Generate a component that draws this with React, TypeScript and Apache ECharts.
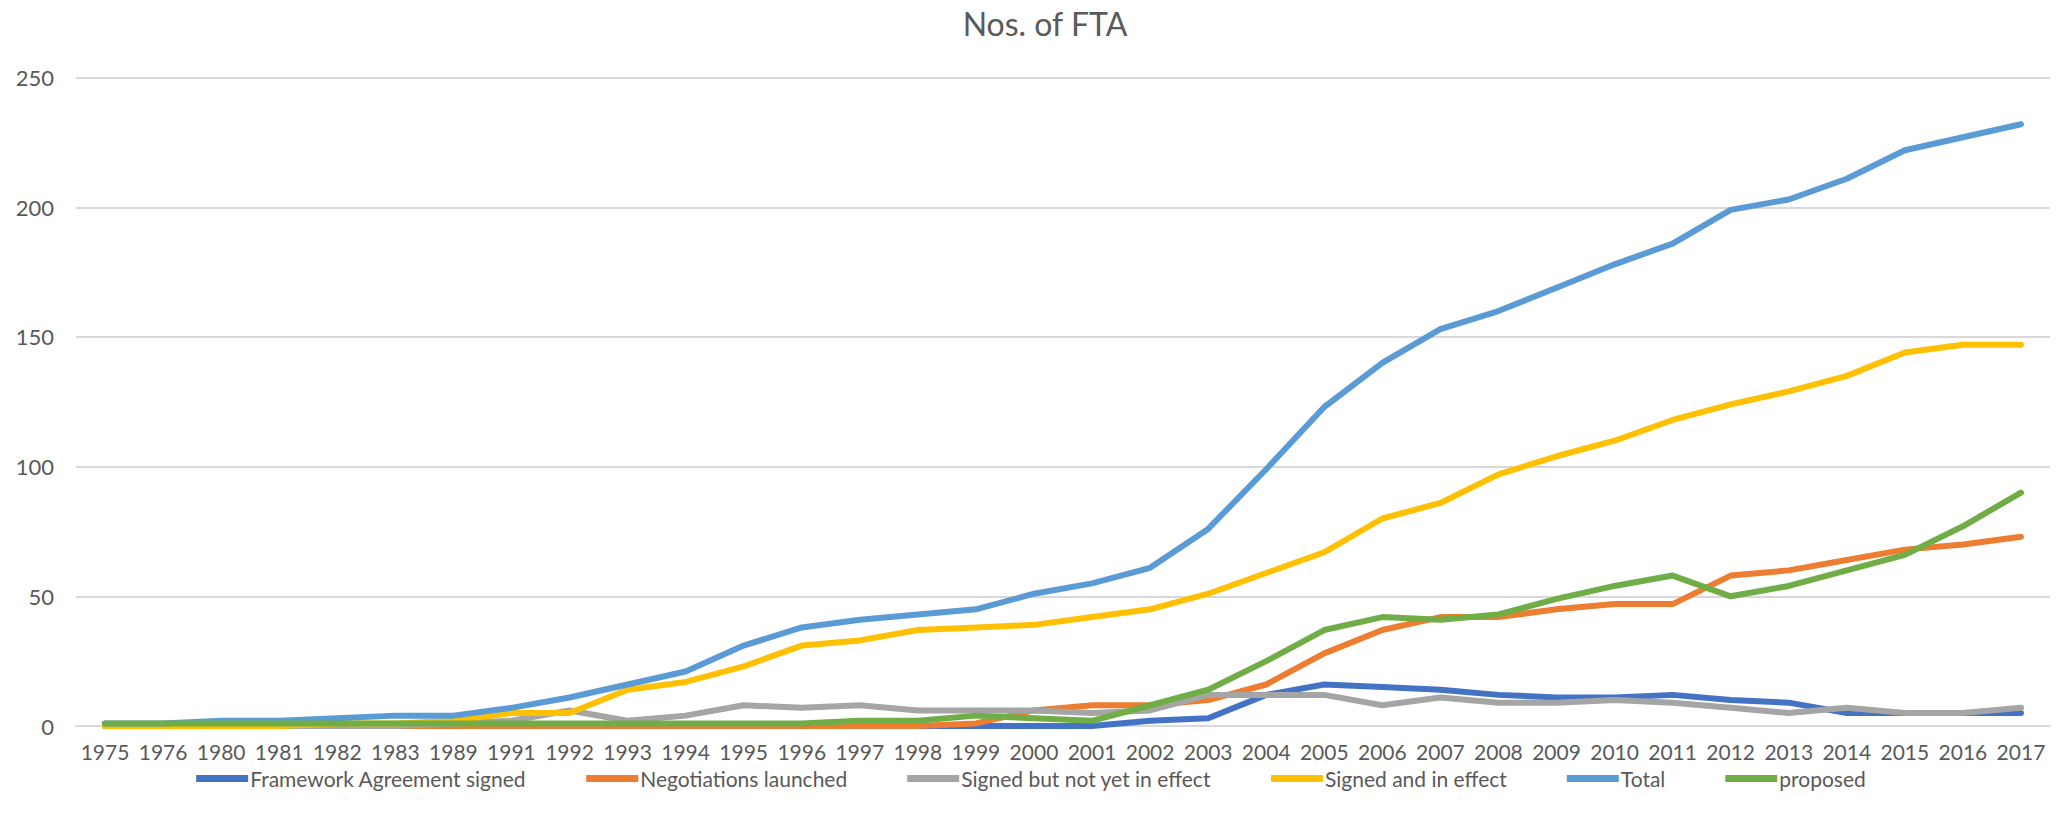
import React, { useEffect, useRef } from "react";
import * as echarts from "echarts";

const years = ["1975","1976","1980","1981","1982","1983","1989","1991","1992","1993","1994","1995","1996","1997","1998","1999","2000","2001","2002","2003","2004","2005","2006","2007","2008","2009","2010","2011","2012","2013","2014","2015","2016","2017"];

const frameworkSigned = [0,0,0,0,0,0,0,0,0,0,0,0,0,0,0,0,0,0,2,3,12,16,15,14,12,11,11,12,10,9,5,5,5,5];
const negotiationsLaunched = [0,0,0,0,0,0,0,0,0,0,0,0,0,0,0,1,6,8,8,10,16,28,37,42,42,45,47,47,58,60,64,68,70,73];
const signedNotInEffect = [0,0,0,0,0,0,1,2,6,2,4,8,7,8,6,6,6,5,6,12,12,12,8,11,9,9,10,9,7,5,7,5,5,7];
const signedInEffect = [0,0,0,0,1,1,2,5,5,14,17,23,31,33,37,38,39,42,45,51,59,67,80,86,97,104,110,118,124,129,135,144,147,147];
const total = [1,1,2,2,3,4,4,7,11,16,21,31,38,41,43,45,51,55,61,76,99,123,140,153,160,169,178,186,199,203,211,222,227,232];
const proposed = [1,1,1,1,1,1,1,1,1,1,1,1,1,2,2,4,3,2,8,14,25,37,42,41,43,49,54,58,50,54,60,66,77,90];

const seriesNames = ["Framework Agreement signed","Negotiations launched","Signed but not yet in effect","Signed and in effect","Total","proposed"];
const seriesColors = ["#4472C4","#ED7D31","#A5A5A5","#FFC000","#5B9BD5","#70AD47"];
const seriesData = [frameworkSigned, negotiationsLaunched, signedNotInEffect, signedInEffect, total, proposed];

const FONT = "Lato, 'Liberation Sans', sans-serif";

export default function App() {
  const ref = useRef<HTMLDivElement>(null);
  useEffect(() => {
    if (!ref.current) return;
    const chart = echarts.init(ref.current, null, { renderer: "svg" });
    chart.setOption({
      animation: false,
      backgroundColor: "#ffffff",
      textStyle: { fontFamily: FONT, color: "#595959" },
      title: {
        text: "Nos. of FTA",
        left: 1040,
        textAlign: "center",
        top: 2,
        textStyle: { fontFamily: FONT, fontSize: 32, fontWeight: "normal", color: "#595959" },
      },
      legend: {
        data: seriesNames.map((n, i) => ({ name: n, icon: "rect", itemStyle: { color: seriesColors[i] } })),
        left: "center",
        top: 763,
        itemWidth: 52,
        itemHeight: 7,
        itemGap: 60,
        textStyle: { fontFamily: FONT, fontSize: 21, lineHeight: 18, color: "#595959", padding: [0, 0, 0, -3] },
      },
      grid: { left: 76, right: 12, top: 77.6, bottom: 99, containLabel: false },
      xAxis: {
        type: "category",
        data: years,
        boundaryGap: true,
        axisLine: { show: true, lineStyle: { color: "#D9D9D9", width: 2 } },
        axisTick: { show: false },
        axisLabel: { interval: 0, fontFamily: FONT, fontSize: 21, lineHeight: 18, color: "#595959", margin: 16 },
      },
      yAxis: {
        type: "value",
        min: 0,
        max: 250,
        interval: 50,
        axisLine: { show: false },
        axisTick: { show: false },
        splitLine: { lineStyle: { color: "#D9D9D9", width: 2 } },
        axisLabel: { fontFamily: FONT, fontSize: 22, color: "#595959", margin: 22 },
      },
      series: seriesNames.map((name, i) => ({
        name,
        type: "line",
        data: seriesData[i],
        symbol: "none",
        showSymbol: false,
        lineStyle: { color: seriesColors[i], width: 6, cap: "round", join: "round" },
        itemStyle: { color: seriesColors[i] },
        z: 2 + i,
      })),
    });
    return () => chart.dispose();
  }, []);
  return (
    <div
      ref={ref}
      style={{ position: "fixed", left: 0, top: 0, width: 2062, height: 825, background: "#fff" }}
    />
  );
}
